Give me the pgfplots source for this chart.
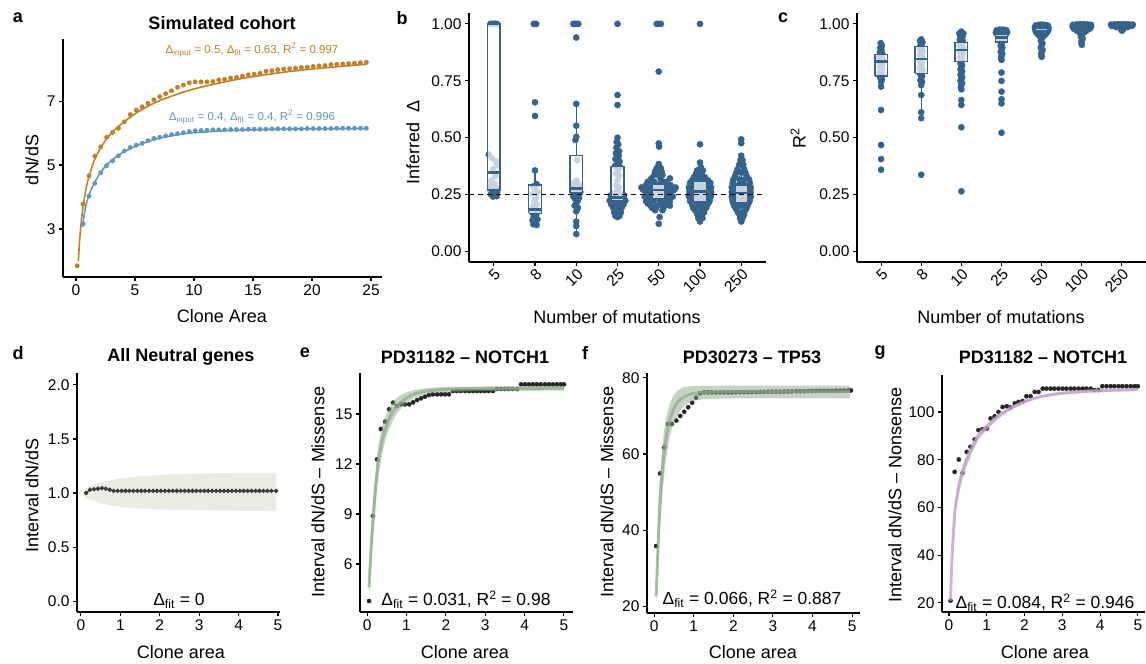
\documentclass[border=0pt]{standalone}
\usepackage{fontspec}
\setmainfont{Liberation Sans}
\usepackage{pgfplots}
\pgfplotsset{compat=1.18}

\definecolor{aOr}{RGB}{191,128,40}
\definecolor{aBl}{RGB}{100,152,184}
\definecolor{bBl}{RGB}{53,99,140}
\definecolor{dRib}{RGB}{236,235,227}
\definecolor{dPt}{RGB}{60,60,56}
\definecolor{sage}{RGB}{140,170,135}
\definecolor{mauve}{RGB}{190,160,195}

\newcommand{\fs}[1]{\fontsize{#1}{#1}\selectfont}
\newcommand{\dfit}{Δ\textsubscript{fit}}
% box: pos, left, right, lower whisker, lower quartile, median, upper quartile, upper whisker
\newcommand{\bxp}[8]{%
  \addplot[bBl, line width=1.3pt] coordinates {(#1,#4) (#1,#5)};
  \addplot[bBl, line width=1.3pt] coordinates {(#1,#7) (#1,#8)};
  \addplot[draw=bBl, line width=1.3pt, fill=white, fill opacity=0.72]
    coordinates {(#2,#5) (#3,#5) (#3,#7) (#2,#7) (#2,#5)};
  \addplot[bBl, line width=2.6pt] coordinates {(#2,#6) (#3,#6)};
}

\pgfplotsset{
  gg/.style={
    scale only axis, anchor=south west,
    axis lines*=left,
    axis line style={line width=1.1pt,-},
    every tick/.style={black, line width=1.1pt},
    tick align=outside, major tick length=4pt,
    tick label style={font=\fs{15.5}},
    /pgf/number format/assume math mode=true,
  },
  cat/.style={
    xmin=-0.6, xmax=6.6, ymin=-0.048, ymax=1.048,
    xtick={0,...,6}, xticklabels={5,8,10,25,50,100,250},
    xticklabel style={rotate=45, anchor=north east, inner sep=1pt},
    ytick={0,0.25,0.5,0.75,1}, yticklabels={0.00,0.25,0.50,0.75,1.00},
  },
  pb/.style={gg, cat, at={(469pt,402pt)}, width=297pt, height=249pt},
  pc/.style={gg, cat, at={(857pt,402pt)}, width=289pt, height=249pt},
  pe/.style={gg, at={(360pt,52pt)}, width=213pt, height=239pt,
    xmin=-0.18, xmax=5.23, ymin=3.12, ymax=17.46, xtick={0,...,5}, ytick={6,9,12,15}},
  pf/.style={gg, at={(647pt,51pt)}, width=213pt, height=240pt,
    xmin=-0.18, xmax=5.2, ymin=18.2, ymax=81.3, xtick={0,...,5}, ytick={20,40,60,80}},
  pg/.style={gg, at={(942pt,52pt)}, width=203pt, height=237pt,
    xmin=-0.185, xmax=5.19, ymin=16.2, ymax=115.5, xtick={0,...,5}, ytick={20,40,60,80,100}},
}

\begin{document}
\begin{tikzpicture}
\path[use as bounding box] (0pt,0pt) rectangle (1146pt,664pt);

% ---------------- a
\begin{axis}[gg, at={(63pt,387pt)}, width=319pt, height=238pt,
  xmin=-1.1, xmax=25.93, ymin=1.5, ymax=8.94,
  xtick={0,5,...,25}, ytick={3,5,7}]
\addplot[aOr, line width=1.6pt, smooth] coordinates {
 (0.2,2.0) (0.3,2.6) (0.4,3.05) (0.5,3.4) (0.6,3.7) (0.8,4.15) (1.0,4.5) (1.5,5.1)
 (2,5.48) (2.5,5.77) (3,6.0) (3.5,6.18) (4,6.33) (5,6.6) (6,6.82) (7,7.0) (8,7.14)
 (9,7.27) (10,7.38) (11,7.47) (12,7.55) (13,7.63) (14,7.7) (16,7.82) (18,7.92)
 (20,8.0) (22,8.07) (24.6,8.15)};
\addplot[only marks, mark=*, mark size=2.2pt, aOr] coordinates {
 (0.1,1.85) (0.6,3.78) (1.1,4.66) (1.6,5.28) (2.1,5.57) (2.6,5.87) (3.1,6.02)
 (3.6,6.15) (4.1,6.35) (4.6,6.58) (5.1,6.72) (5.6,6.82) (6.1,6.93) (6.6,7.04)
 (7.1,7.14) (7.6,7.23) (8.1,7.32) (8.6,7.43) (9.1,7.50) (9.6,7.57) (10.1,7.60)
 (10.6,7.60) (11.1,7.60) (11.6,7.61) (12.1,7.66) (12.6,7.68) (13.1,7.72)
 (13.6,7.74) (14.1,7.78) (14.6,7.82) (15.1,7.84) (15.6,7.87) (16.1,7.93)
 (16.6,7.95) (17.1,7.98) (17.6,8.00) (18.1,8.01) (18.6,8.03) (19.1,8.05)
 (19.6,8.06) (20.1,8.08) (20.6,8.10) (21.1,8.11) (21.6,8.14) (22.1,8.15)
 (22.6,8.16) (23.1,8.17) (23.6,8.18) (24.1,8.20) (24.6,8.21)};
\addplot[aBl, line width=1.6pt, smooth] coordinates {
 (0.55,3.05) (0.7,3.45) (0.85,3.75) (1.0,3.95) (1.25,4.2) (1.5,4.4) (2,4.73)
 (2.5,4.96) (3,5.14) (3.5,5.28) (4,5.4) (5,5.58) (6,5.72) (7,5.83) (8,5.91)
 (9,5.97) (10,6.01) (12,6.06) (14,6.09) (17,6.12) (20,6.13) (24.6,6.14)};
\addplot[only marks, mark=*, mark size=2.2pt, aBl] coordinates {
 (0.6,3.16) (1.1,4.03) (1.6,4.43) (2.1,4.76) (2.6,4.98) (3.1,5.13) (3.6,5.29)
 (4.1,5.44) (4.6,5.55) (5.1,5.62) (5.6,5.68) (6.1,5.76) (6.6,5.83) (7.1,5.87)
 (7.6,5.91) (8.1,5.95) (8.6,5.98) (9.1,6.01) (9.6,6.05) (10.1,6.07) (10.6,6.08)
 (11.1,6.09) (11.6,6.10) (12.1,6.10) (12.6,6.10) (13.1,6.11) (13.6,6.11)
 (14.1,6.11) (14.6,6.12) (15.1,6.12) (15.6,6.12) (16.1,6.12) (16.6,6.13)
 (17.1,6.13) (17.6,6.13) (18.1,6.13) (18.6,6.13) (19.1,6.13) (19.6,6.14)
 (20.1,6.14) (20.6,6.14) (21.1,6.14) (21.6,6.14) (22.1,6.15) (22.6,6.15)
 (23.1,6.15) (23.6,6.15) (24.1,6.15) (24.6,6.15)};
\end{axis}

% ---------------- b
\begin{axis}[pb]
\addplot[only marks, mark=*, mark size=3.1pt, bBl] coordinates {
 (-0.08,1.0) (-0.04,1.0) (0,1.0) (0.04,1.0) (0.08,1.0)
 (-0.12,0.425) (-0.05,0.41) (0.05,0.395) (0.08,0.38) (-0.02,0.36) (0.04,0.33)
 (-0.06,0.31) (0.02,0.295) (-0.08,0.285) (0.06,0.275) (-0.04,0.265) (0.08,0.26)
 (-0.07,0.25) (0,0.245) (0.07,0.242) (-0.02,0.24)
 (1,1.0) (1.03,1.0) (0.97,1.0) (1,0.655) (1,0.595) (1,0.355) (1.04,0.295)
 (0.96,0.285) (1,0.275) (1.06,0.26) (0.94,0.25) (1.02,0.235) (0.98,0.22)
 (1.05,0.205) (0.95,0.195) (1,0.185) (1.07,0.175) (0.93,0.17) (1.03,0.16)
 (0.97,0.15) (1.06,0.14) (0.94,0.135) (1,0.125) (0.96,0.118) (1.04,0.115)
 (1.93,1.0) (1.96,1.0) (1.99,1.0) (2.02,1.0) (2.05,1.0) (2,0.94) (2,0.648)
 (2,0.552) (2,0.503) (1.98,0.489) (2.02,0.40) (2,0.31) (1.95,0.30) (2.05,0.295)
 (1.92,0.285) (2.08,0.28) (1.97,0.275) (2.03,0.27) (1.9,0.265) (2.1,0.26)
 (1.95,0.255) (2.05,0.25) (2,0.245) (1.93,0.24) (2.07,0.235) (1.97,0.23)
 (2.03,0.22) (2,0.21) (1.96,0.2) (2.04,0.19) (2,0.175) (2,0.13) (2,0.11) (2,0.075)
 (3,1.0) (3,0.687) (3,0.643) (3,0.499) (2.98,0.48) (3.02,0.47) (2.97,0.455)
 (3.04,0.44) (2.96,0.43) (3.03,0.42) (2.95,0.405) (3.05,0.395) (3,0.385)
 (2.94,0.375) (3.06,0.37) (3,0.355) (2.96,0.34) (3.04,0.33) (3,0.31) (2.97,0.29)
 (3.03,0.28) (3,0.265) (2.9,0.255) (3.1,0.25) (2.84,0.245) (3.16,0.245)
 (2.93,0.24) (3.07,0.24) (2.86,0.232) (3.14,0.23) (3,0.228) (2.81,0.222)
 (3.19,0.222) (2.92,0.215) (3.08,0.215) (2.85,0.205) (3.15,0.205) (3,0.2)
 (2.9,0.19) (3.1,0.19) (2.95,0.18) (3.05,0.18) (2.92,0.17) (3.08,0.17)
 (3,0.165) (2.95,0.155) (3.05,0.155) (3,0.15)
 (3.95,1.0) (4,1.0) (4.05,1.0) (4,0.79) (4,0.474) (4.01,0.46) (4,0.383)
 (3.95,0.365) (4.05,0.365) (3.91,0.35) (4.07,0.35) (3.89,0.335) (4,0.335)
 (4.09,0.335) (3.82,0.32) (4.04,0.32) (4.27,0.32) (3.73,0.305) (3.89,0.305)
 (4.09,0.305) (4.18,0.305) (3.69,0.29) (3.82,0.29) (4,0.29) (4.16,0.29)
 (4.29,0.29) (3.58,0.28) (3.73,0.28) (3.89,0.28) (4.11,0.28) (4.25,0.28)
 (4.41,0.28) (3.62,0.27) (3.78,0.27) (4,0.27) (4.22,0.27) (4.38,0.27)
 (3.69,0.26) (3.84,0.26) (4.13,0.26) (4.31,0.26) (3.73,0.25) (3.91,0.25)
 (4.07,0.25) (4.27,0.25) (3.66,0.24) (3.82,0.24) (4,0.24) (4.18,0.24) (4.34,0.24)
 (3.73,0.23) (4,0.23) (4.25,0.23) (3.69,0.22) (3.87,0.22) (4.11,0.22) (4.27,0.22)
 (3.73,0.21) (4.04,0.21) (4.22,0.21) (3.8,0.20) (3.96,0.20) (4.13,0.20)
 (4.27,0.20) (3.84,0.19) (4.11,0.19) (3.91,0.18) (4.09,0.18) (4.02,0.15) (4,0.12)
 (5,1.0) (5,0.47) (5,0.39) (5.02,0.37) (4.93,0.355) (5.07,0.355) (4.9,0.34)
 (5.04,0.34) (4.85,0.325) (5,0.325) (5.12,0.325) (4.8,0.31) (4.93,0.31)
 (5.08,0.31) (5.2,0.31) (4.76,0.30) (4.9,0.30) (5.12,0.30) (5.25,0.30)
 (4.77,0.29) (5,0.29) (5.23,0.29) (4.73,0.28) (4.88,0.28) (5.14,0.28) (5.27,0.28)
 (4.76,0.27) (5,0.27) (5.25,0.27) (4.74,0.26) (4.9,0.26) (5.12,0.26) (5.27,0.26)
 (4.77,0.25) (5,0.25) (5.25,0.25) (4.73,0.24) (4.92,0.24) (5.1,0.24) (5.26,0.24)
 (4.77,0.23) (5,0.23) (5.23,0.23) (4.76,0.22) (4.92,0.22) (5.08,0.22) (5.23,0.22)
 (4.8,0.21) (5.04,0.21) (5.2,0.21) (4.82,0.20) (4.96,0.20) (5.16,0.20)
 (4.84,0.19) (5.08,0.19) (5.15,0.19) (4.88,0.18) (5.04,0.18) (4.92,0.17)
 (5.1,0.17) (4.94,0.16) (5.05,0.16) (4.96,0.145) (5.06,0.145) (5,0.13)
 (6,0.492) (6,0.475) (6,0.42) (5.98,0.40) (6.03,0.40) (5.95,0.38) (6.05,0.38)
 (5.91,0.36) (6.07,0.36) (5.88,0.345) (6,0.345) (6.1,0.345) (5.85,0.33)
 (6.13,0.33) (5.81,0.315) (5.96,0.315) (6.08,0.315) (6.19,0.315) (5.79,0.30)
 (6,0.30) (6.21,0.30) (5.81,0.29) (5.93,0.29) (6.07,0.29) (6.19,0.29)
 (5.77,0.28) (6,0.28) (6.23,0.28) (5.79,0.27) (5.92,0.27) (6.08,0.27) (6.21,0.27)
 (5.77,0.26) (6,0.26) (6.23,0.26) (5.78,0.25) (5.92,0.25) (6.08,0.25) (6.21,0.25)
 (5.77,0.24) (6,0.24) (6.23,0.24) (5.79,0.23) (5.93,0.23) (6.07,0.23) (6.21,0.23)
 (5.79,0.22) (6,0.22) (6.2,0.22) (5.81,0.21) (5.95,0.21) (6.05,0.21) (6.17,0.21)
 (5.83,0.20) (6,0.20) (6.15,0.20) (5.86,0.19) (6.13,0.19) (5.9,0.18) (6.1,0.18)
 (5.92,0.17) (6.04,0.17) (5.96,0.16) (6.07,0.16) (5.97,0.145) (6.03,0.145) (6,0.13)};
\end{axis}
\begin{axis}[pb, hide axis]
\bxp{0}{-0.155}{0.155}{0.24}{0.269}{0.345}{1.0}{1.0}
\bxp{1}{0.845}{1.155}{0.115}{0.166}{0.184}{0.291}{0.355}
\bxp{2}{1.845}{2.155}{0.075}{0.257}{0.276}{0.421}{0.648}
\bxp{3}{2.845}{3.155}{0.15}{0.222}{0.236}{0.371}{0.499}
\bxp{4}{3.845}{4.155}{0.18}{0.229}{0.269}{0.295}{0.383}
\bxp{5}{4.845}{5.155}{0.13}{0.217}{0.261}{0.305}{0.39}
\bxp{6}{5.845}{6.155}{0.13}{0.214}{0.255}{0.291}{0.42}
\addplot[black, line width=1.1pt, dash pattern=on 5pt off 4pt] coordinates {(-0.6,0.25) (6.6,0.25)};
\end{axis}

% ---------------- c
\begin{axis}[pc]
\addplot[only marks, mark=*, mark size=3.1pt, bBl] coordinates {
 (-0.01,0.915) (0.02,0.905) (-0.02,0.895) (0.01,0.885) (-0.03,0.875) (0.03,0.868)
 (0,0.86) (-0.04,0.852) (0.04,0.845) (0,0.838) (-0.03,0.83) (0.03,0.822)
 (-0.02,0.812) (0.02,0.802) (0,0.792) (-0.03,0.785) (0.03,0.776) (0,0.77)
 (-0.02,0.762) (0.02,0.755) (0,0.745) (0,0.724) (0,0.621) (0,0.467) (0,0.405) (0,0.358)
 (1,0.932) (0.97,0.925) (1.03,0.92) (1,0.912) (0.98,0.905) (1.02,0.898)
 (0.97,0.89) (1.03,0.88) (1,0.872) (0.97,0.862) (1.03,0.853) (1,0.845)
 (0.98,0.835) (1.02,0.826) (1,0.815) (0.97,0.806) (1.03,0.797) (1,0.788)
 (0.98,0.778) (1.02,0.77) (1,0.762) (0.98,0.752) (1.02,0.745) (1,0.73)
 (1,0.687) (1,0.611) (1,0.585) (1,0.336)
 (2,0.966) (1.95,0.958) (2.05,0.958) (1.97,0.95) (2.03,0.945) (2,0.938)
 (1.96,0.93) (2.04,0.922) (2,0.913) (1.96,0.905) (2.04,0.897) (2,0.888)
 (1.96,0.88) (2.04,0.871) (2,0.862) (1.97,0.853) (2.03,0.845) (2,0.836)
 (1.98,0.826) (2.02,0.818) (2,0.81) (1.98,0.8) (2.02,0.792) (2,0.784)
 (1.98,0.775) (2.02,0.766) (2,0.758) (1.98,0.749) (2.02,0.74) (2,0.731)
 (1.99,0.722) (2,0.712) (2,0.665) (2,0.643) (2,0.545) (2,0.263)
 (2.88,0.972) (2.96,0.975) (3.04,0.975) (3.12,0.972) (2.86,0.962) (2.95,0.964)
 (3.05,0.964) (3.14,0.962) (2.9,0.952) (3,0.953) (3.1,0.952) (2.93,0.942)
 (3.07,0.942) (2.96,0.932) (3.04,0.932) (2.98,0.922) (3.02,0.922) (3,0.912)
 (2.98,0.903) (3.02,0.895) (3,0.886) (2.98,0.877) (3.02,0.868) (3,0.86)
 (2.99,0.851) (3,0.842) (3,0.786) (3,0.749) (3,0.702) (3,0.668) (3,0.65) (3,0.521)
 (3.85,0.993) (3.93,0.996) (4,0.997) (4.07,0.996) (4.15,0.993)
 (3.83,0.984) (3.92,0.985) (4,0.986) (4.08,0.985) (4.17,0.984)
 (3.84,0.974) (3.93,0.975) (4.02,0.976) (4.1,0.975) (4.17,0.973)
 (3.86,0.964) (3.95,0.965) (4.05,0.965) (4.14,0.964) (3.9,0.955) (4,0.956)
 (4.1,0.955) (3.95,0.946) (4.05,0.946) (4,0.935) (3.98,0.925) (4.02,0.915)
 (4,0.905) (3.98,0.895) (4.02,0.885) (4,0.875) (3.99,0.865) (4,0.855)
 (4.78,0.996) (4.87,0.998) (4.96,0.999) (5.05,0.999) (5.14,0.998) (5.23,0.996)
 (4.77,0.988) (4.86,0.989) (4.95,0.99) (5.05,0.99) (5.14,0.989) (5.23,0.988)
 (4.8,0.979) (4.9,0.98) (5,0.981) (5.1,0.98) (5.2,0.979) (4.88,0.97) (5,0.971)
 (5.12,0.97) (4.94,0.962) (5.06,0.962) (5,0.952) (4.98,0.943) (5.02,0.935)
 (5,0.926) (4.99,0.917) (5,0.908)
 (5.73,0.997) (5.82,0.998) (5.91,0.999) (6,0.999) (6.09,0.999) (6.18,0.998)
 (6.27,0.997) (5.75,0.991) (5.85,0.992) (5.95,0.993) (6.05,0.993) (6.15,0.992)
 (6.25,0.991) (5.86,0.986) (6,0.987) (6.14,0.986) (5.97,0.978) (6.03,0.976) (6,0.97)};
\end{axis}
\begin{axis}[pc, hide axis]
\bxp{0}{-0.155}{0.155}{0.724}{0.771}{0.834}{0.866}{0.915}
\bxp{1}{0.845}{1.155}{0.585}{0.783}{0.846}{0.9}{0.932}
\bxp{2}{1.845}{2.155}{0.712}{0.834}{0.885}{0.919}{0.966}
\bxp{3}{2.845}{3.155}{0.86}{0.92}{0.94}{0.955}{0.975}
\bxp{4}{3.845}{4.155}{0.93}{0.955}{0.967}{0.98}{0.997}
\bxp{5}{4.845}{5.155}{0.95}{0.972}{0.981}{0.99}{0.999}
\bxp{6}{5.845}{6.155}{0.985}{0.99}{0.994}{0.997}{0.999}
\end{axis}

% ---------------- d
\begin{axis}[gg, at={(77pt,52pt)}, width=203pt, height=239pt,
  xmin=-0.1, xmax=5.05, ymin=-0.1, ymax=2.11,
  xtick={0,...,5}, ytick={0,0.5,1,1.5,2}, yticklabels={0.0,0.5,1.0,1.5,2.0}]
\addplot[fill=dRib, draw=none] coordinates {
 (0.1,1.04) (0.2,1.06) (0.3,1.075) (0.5,1.10) (0.75,1.12) (1,1.136) (1.5,1.155)
 (2,1.168) (2.5,1.176) (3,1.181) (3.5,1.184) (4,1.186) (4.5,1.187) (4.95,1.188)
 (4.95,0.833) (4.5,0.834) (4,0.836) (3.5,0.838) (3,0.84) (2.5,0.843) (2,0.848)
 (1.5,0.858) (1,0.873) (0.75,0.885) (0.5,0.905) (0.3,0.93) (0.2,0.945) (0.1,0.96)};
\addplot[dPt, line width=1pt, mark=*, mark size=1.7pt] coordinates {
 (0.13,1.0) (0.23,1.03) (0.33,1.035) (0.43,1.04) (0.53,1.045) (0.63,1.04)
 (0.73,1.03) (0.83,1.02) (0.93,1.02) (1.03,1.02) (1.13,1.02) (1.23,1.02)
 (1.33,1.02) (1.43,1.02) (1.53,1.02) (1.63,1.02) (1.73,1.02) (1.83,1.02)
 (1.93,1.02) (2.03,1.02) (2.13,1.02) (2.23,1.02) (2.33,1.02) (2.43,1.02)
 (2.53,1.02) (2.63,1.02) (2.73,1.02) (2.83,1.02) (2.93,1.02) (3.03,1.02)
 (3.13,1.02) (3.23,1.02) (3.33,1.02) (3.43,1.02) (3.53,1.02) (3.63,1.02)
 (3.73,1.02) (3.83,1.02) (3.93,1.02) (4.03,1.02) (4.13,1.02) (4.23,1.02)
 (4.33,1.02) (4.43,1.02) (4.53,1.02) (4.63,1.02) (4.73,1.02) (4.83,1.02) (4.95,1.02)};
\end{axis}

% ---------------- e
\begin{axis}[pe]
\addplot[only marks, mark=*, mark size=2.1pt, black!85] coordinates {
 (0.05,3.78) (0.15,8.88) (0.25,12.28) (0.35,14.1) (0.46,14.54) (0.56,15.28)
 (0.66,15.68) (0.76,15.48) (0.86,15.58) (0.96,15.58) (1.07,15.58) (1.17,15.7)
 (1.27,15.84) (1.37,15.94) (1.47,16.04) (1.57,16.14) (1.67,16.18) (1.78,16.18)
 (1.88,16.18) (1.98,16.18) (2.08,16.18) (2.18,16.38) (2.28,16.38) (2.38,16.38)
 (2.49,16.38) (2.59,16.38) (2.69,16.38) (2.79,16.38) (2.89,16.38) (2.99,16.38)
 (3.09,16.38) (3.2,16.38) (3.3,16.5) (3.4,16.5) (3.5,16.5) (3.6,16.5) (3.7,16.5)
 (3.81,16.5) (3.91,16.78) (4.01,16.78) (4.11,16.78) (4.21,16.78) (4.31,16.78)
 (4.41,16.78) (4.52,16.78) (4.62,16.78) (4.72,16.78) (4.82,16.78) (4.92,16.78) (5.0,16.78)};
\end{axis}
\begin{axis}[pe, hide axis]
\addplot[fill=sage, fill opacity=0.5, draw=none] coordinates {
 (0.05,5.5) (0.1,8.0) (0.15,9.8) (0.2,11.2) (0.25,12.4) (0.3,13.3) (0.4,14.4)
 (0.5,15.0) (0.6,15.5) (0.7,15.85) (0.8,16.05) (0.9,16.2) (1.0,16.3) (1.2,16.45)
 (1.4,16.52) (1.6,16.57) (2,16.62) (3,16.65) (5.0,16.68)
 (5.0,16.4) (3,16.38) (2,16.33) (1.6,16.25) (1.4,16.15) (1.2,15.98) (1.0,15.65)
 (0.9,15.45) (0.8,15.15) (0.7,14.8) (0.6,14.3) (0.5,13.7) (0.4,12.8) (0.3,11.5)
 (0.25,10.5) (0.2,9.1) (0.15,7.5) (0.1,5.9) (0.05,4.0)};
\addplot[sage, line width=3pt, opacity=0.7, smooth] coordinates {
 (0.05,4.6) (0.1,6.9) (0.15,8.6) (0.2,10.1) (0.25,11.4) (0.3,12.4) (0.4,13.6)
 (0.5,14.35) (0.6,14.9) (0.7,15.3) (0.8,15.55) (0.9,15.8) (1.0,15.95) (1.2,16.2)
 (1.4,16.33) (1.6,16.4) (1.8,16.45) (2.0,16.48) (2.5,16.52) (3,16.53) (4,16.54) (5.0,16.55)};
\end{axis}

% ---------------- f
\begin{axis}[pf]
\addplot[only marks, mark=*, mark size=2.1pt, black!85] coordinates {
 (0.05,35.8) (0.15,54.9) (0.25,61.7) (0.35,67.9) (0.45,67.9) (0.56,68.8)
 (0.66,70.0) (0.76,71.1) (0.86,72.3) (0.96,73.5) (1.06,74.8) (1.16,75.97)
 (1.26,76.2) (1.36,76.2) (1.46,76.2) (1.56,76.2) (1.67,76.2) (1.77,76.2)
 (1.87,76.2) (1.97,76.2) (2.07,76.25) (2.17,76.25) (2.27,76.25) (2.37,76.3)
 (2.47,76.3) (2.58,76.3) (2.68,76.35) (2.78,76.35) (2.88,76.4) (2.98,76.4)
 (3.08,76.4) (3.18,76.4) (3.28,76.45) (3.38,76.45) (3.48,76.45) (3.59,76.5)
 (3.69,76.5) (3.79,76.5) (3.89,76.55) (3.99,76.55) (4.09,76.55) (4.19,76.6)
 (4.29,76.6) (4.39,76.6) (4.49,76.6) (4.6,76.65) (4.7,76.65) (4.8,76.65)
 (4.9,76.7) (4.97,76.7)};
\end{axis}
\begin{axis}[pf, hide axis]
\addplot[fill=sage, fill opacity=0.5, draw=none] coordinates {
 (0.05,25) (0.1,42) (0.15,54) (0.2,61) (0.25,66) (0.3,69.5) (0.4,73.5)
 (0.5,75.6) (0.6,76.8) (0.7,77.4) (0.8,77.7) (1.0,77.9) (1.5,78.0) (4.95,78.0)
 (4.95,74.6) (2,74.6) (1.5,74.5) (1.2,74.3) (1.0,74.0) (0.9,73.6) (0.8,72.9)
 (0.7,71.9) (0.6,70.4) (0.5,68.2) (0.4,64.8) (0.3,58.5) (0.25,54) (0.2,48)
 (0.15,41) (0.1,31) (0.05,21)};
\addplot[sage, line width=3pt, opacity=0.7, smooth] coordinates {
 (0.05,22.5) (0.07,27.7) (0.1,36) (0.15,48) (0.2,55) (0.25,60.2) (0.3,64)
 (0.35,67) (0.4,69.2) (0.5,72) (0.6,73.7) (0.7,74.7) (0.8,75.3) (0.9,75.7)
 (1.0,75.95) (1.2,76.15) (1.5,76.3) (2,76.35) (3,76.4) (4,76.45) (4.95,76.5)};
\end{axis}

% ---------------- g
\begin{axis}[pg]
\addplot[only marks, mark=*, mark size=2.1pt, black!85] coordinates {
 (0.04,20.96) (0.15,74.9) (0.26,80.1) (0.36,74.5) (0.47,83.3) (0.57,85.4)
 (0.68,88.5) (0.78,92.4) (0.89,92.8) (1.0,93.1) (1.1,97.3) (1.21,98.2)
 (1.31,100.0) (1.42,102.1) (1.53,102.4) (1.63,101.9) (1.74,103.6) (1.84,104.2)
 (1.95,104.6) (2.05,106.6) (2.16,106.6) (2.27,108.4) (2.37,108.4) (2.48,109.8)
 (2.58,109.8) (2.69,109.8) (2.79,109.8) (2.9,109.8) (3.01,109.8) (3.11,109.8)
 (3.22,109.8) (3.32,109.8) (3.43,109.8) (3.54,109.8) (3.64,109.8) (3.75,109.8)
 (3.85,109.2) (3.96,109.2) (4.06,110.8) (4.17,110.8) (4.28,110.8) (4.38,110.8)
 (4.49,110.8) (4.59,110.8) (4.7,110.8) (4.81,110.8) (4.91,110.8) (5.0,110.8)};
\end{axis}
\begin{axis}[pg, hide axis]
\addplot[fill=mauve, fill opacity=0.5, draw=none] coordinates {
 (0.04,24) (0.06,35) (0.1,49) (0.16,62.5) (0.2,67) (0.26,72) (0.35,77.5)
 (0.47,82.5) (0.6,86.8) (0.69,89.5) (0.8,92) (1.0,95.2) (1.2,98) (1.35,99.8)
 (1.6,102.2) (1.79,103.6) (2.0,105) (2.23,106.2) (2.5,107.3) (2.9,108.3)
 (3.3,108.9) (3.78,109.4) (4.3,109.7) (5.0,110.0)
 (5.0,108.8) (4.3,108.5) (3.78,108.2) (3.3,107.7) (2.9,107.1) (2.5,106.1)
 (2.23,105.0) (2.0,103.6) (1.79,102.0) (1.6,100.4) (1.35,97.6) (1.2,95.6)
 (1.0,92.4) (0.8,88.6) (0.69,85.5) (0.6,82.2) (0.47,77.1) (0.35,71.5)
 (0.26,65.4) (0.2,60) (0.16,55.3) (0.1,41) (0.06,27) (0.04,18)};
\addplot[mauve, line width=3pt, opacity=0.7, smooth] coordinates {
 (0.04,21) (0.06,31) (0.1,45) (0.16,58.9) (0.2,63.5) (0.26,68.7) (0.35,74.5)
 (0.47,79.8) (0.6,84.5) (0.69,87.5) (0.8,90.3) (1.0,93.8) (1.2,96.8)
 (1.35,98.7) (1.6,101.3) (1.79,102.8) (2.0,104.3) (2.23,105.6) (2.5,106.7)
 (2.9,107.7) (3.3,108.3) (3.78,108.8) (4.3,109.1) (5.0,109.4)};
\end{axis}

% ---------------- texts
\tikzset{lab/.style={font=\fs{18}\bfseries}, ttl/.style={font=\fs{18}\bfseries},
  axl/.style={font=\fs{18}}, ann/.style={font=\fs{17.5}}}
\node[lab] at (18pt,646pt) {a};
\node[lab] at (402pt,646pt) {b};
\node[lab] at (783pt,646pt) {c};
\node[lab] at (18pt,311pt) {d};
\node[lab] at (305pt,311pt) {e};
\node[lab] at (585pt,311pt) {f};
\node[lab] at (880pt,311pt) {g};

\node[ttl] at (222pt,641pt) {Simulated cohort};
\node[ttl] at (181pt,307pt) {All Neutral genes};
\node[ttl] at (465pt,307pt) {PD31182 – NOTCH1};
\node[ttl] at (752pt,307pt) {PD30273 – TP53};
\node[ttl] at (1043pt,307pt) {PD31182 – NOTCH1};

\node[axl] at (222pt,348pt) {Clone Area};
\node[axl] at (617pt,347pt) {Number of mutations};
\node[axl] at (1001pt,347pt) {Number of mutations};
\node[axl] at (181pt,12pt) {Clone area};
\node[axl] at (465pt,12pt) {Clone area};
\node[axl] at (753pt,12pt) {Clone area};
\node[axl] at (1045pt,12pt) {Clone area};

\node[axl, rotate=90] at (32pt,504pt) {dN/dS};
\node[axl, rotate=90] at (413pt,522pt) {Inferred\ \ Δ};
\node[axl, rotate=90] at (798pt,526pt) {R\textsuperscript{2}};
\node[axl, rotate=90] at (32pt,169pt) {Interval dN/dS};
\node[axl, rotate=90] at (318pt,172pt) {Interval dN/dS – Missense};
\node[axl, rotate=90] at (607pt,172pt) {Interval dN/dS – Missense};
\node[axl, rotate=90] at (895pt,169pt) {Interval dN/dS – Nonsense};

\node[font=\fs{11.5}, text=aOr] at (252pt,614pt) {Δ\textsubscript{input} = 0.5, \dfit{} = 0.63, R\textsuperscript{2} = 0.997};
\node[font=\fs{11.5}, text=aBl] at (252pt,547pt) {Δ\textsubscript{input} = 0.4, \dfit{} = 0.4, R\textsuperscript{2} = 0.996};
\node[ann] at (179pt,63pt) {\dfit{} = 0};
\node[ann] at (466pt,64pt) {\dfit{} = 0.031, R\textsuperscript{2} = 0.98};
\node[ann] at (752pt,65pt) {\dfit{} = 0.066, R\textsuperscript{2} = 0.887};
\node[ann] at (1045pt,61pt) {\dfit{} = 0.084, R\textsuperscript{2} = 0.946};
\end{tikzpicture}
\end{document}
